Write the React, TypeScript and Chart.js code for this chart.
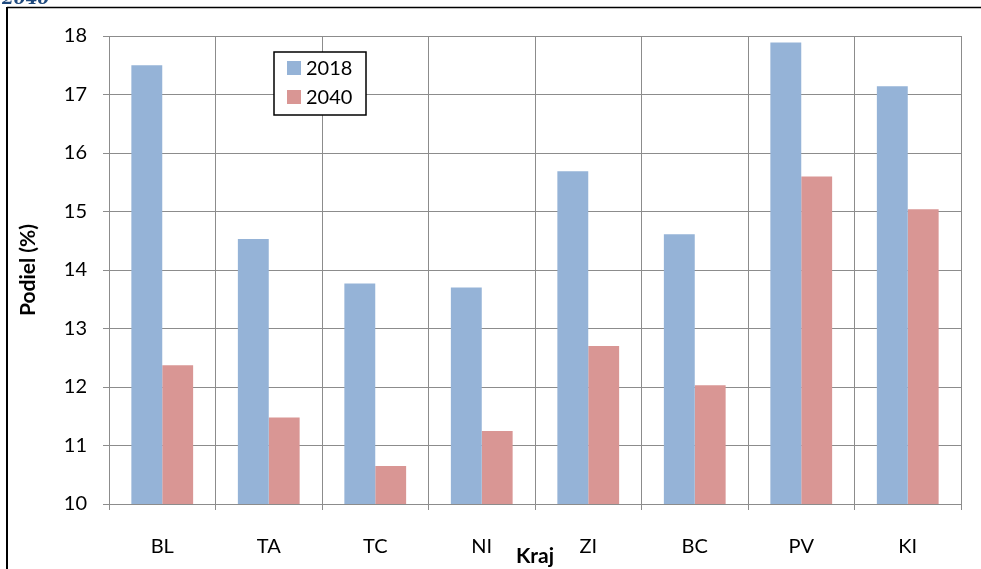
import React, { useEffect, useRef } from "react";
import { Chart, registerables } from "chart.js";

Chart.register(...registerables);

const categories = ["BL", "TA", "TC", "NI", "ZI", "BC", "PV", "KI"];
const values2018 = [17.5, 14.53, 13.77, 13.7, 15.69, 14.61, 17.89, 17.14];
const values2040 = [12.37, 11.48, 10.65, 11.25, 12.7, 12.03, 15.6, 15.04];
const seriesLabels = ["2018", "2040"];
const seriesColors = ["#95B3D7", "#D99694"];
const yTitle = "Podiel (%)";
const xTitle = "Kraj";
const captionFragment = "2040";

const FONT = "Lato, 'Open Sans', sans-serif";

const decorPlugin = {
  id: "decor",
  beforeDraw(chart: any) {
    const ctx = chart.ctx;
    ctx.save();
    ctx.fillStyle = "#ffffff";
    ctx.fillRect(0, 0, chart.width, chart.height);
    // outer frame lines
    ctx.strokeStyle = "#000000";
    ctx.lineWidth = 2;
    ctx.beginPath();
    ctx.moveTo(7, chart.height);
    ctx.lineTo(7, 7);
    ctx.stroke();
    ctx.lineWidth = 1.5;
    ctx.beginPath();
    ctx.moveTo(7, 7.5);
    ctx.lineTo(chart.width, 7.5);
    ctx.stroke();
    // clipped caption fragment
    ctx.fillStyle = "#1F497D";
    ctx.font = "bold italic 17px 'DejaVu Serif', serif";
    ctx.textBaseline = "alphabetic";
    ctx.textAlign = "left";
    ctx.fillText(captionFragment, 2, 4);
    ctx.restore();
  },
  afterDraw(chart: any) {
    const ctx = chart.ctx;
    const area = chart.chartArea;
    ctx.save();
    // axis titles
    ctx.fillStyle = "#000000";
    ctx.font = `bold 21px ${FONT}`;
    ctx.textAlign = "center";
    ctx.textBaseline = "middle";
    ctx.fillText(xTitle, (area.left + area.right) / 2, 556);
    ctx.translate(28, (area.top + area.bottom) / 2);
    ctx.rotate(-Math.PI / 2);
    ctx.fillText(yTitle, 0, 0);
    ctx.restore();

    // legend box
    ctx.save();
    ctx.fillStyle = "#ffffff";
    ctx.strokeStyle = "#000000";
    ctx.lineWidth = 1.5;
    ctx.fillRect(274, 52, 92, 63);
    ctx.strokeRect(274, 52, 92, 63);
    ctx.font = `20px ${FONT}`;
    ctx.textAlign = "left";
    ctx.textBaseline = "middle";
    const rows = [68, 97];
    seriesLabels.forEach((lab, i) => {
      ctx.fillStyle = seriesColors[i];
      ctx.fillRect(287, rows[i] - 7, 14, 14);
      ctx.fillStyle = "#000000";
      ctx.fillText(lab, 306, rows[i] + 1);
    });
    ctx.restore();
  },
};

export default function App() {
  const ref = useRef<HTMLCanvasElement | null>(null);
  useEffect(() => {
    if (!ref.current) return;
    const chart = new Chart(ref.current, {
      type: "bar",
      data: {
        labels: categories,
        datasets: [
          {
            label: seriesLabels[0],
            data: values2018,
            backgroundColor: seriesColors[0],
            borderWidth: 0,
            categoryPercentage: 0.58,
            barPercentage: 1.0,
          },
          {
            label: seriesLabels[1],
            data: values2040,
            backgroundColor: seriesColors[1],
            borderWidth: 0,
            categoryPercentage: 0.58,
            barPercentage: 1.0,
          },
        ],
      },
      options: {
        responsive: false,
        animation: false,
        layout: { padding: { top: 36, right: 20, left: 0, bottom: 0 } },
        plugins: {
          legend: { display: false },
          tooltip: { enabled: false },
          title: { display: false },
        },
        scales: {
          x: {
            grid: {
              offset: true,
              color: "#8c8c8c",
              lineWidth: 1,
              tickLength: 6,
              drawOnChartArea: true,
            },
            border: { color: "#8c8c8c", width: 1 },
            ticks: {
              color: "#000000",
              font: { family: FONT, size: 20 },
              padding: 25,
              maxRotation: 0,
            },
            afterFit(scale: any) {
              scale.height = 65;
            },
          },
          y: {
            min: 10,
            max: 18,
            grid: { color: "#8c8c8c", lineWidth: 1, tickLength: 6 },
            border: { color: "#8c8c8c", width: 1 },
            ticks: {
              stepSize: 1,
              color: "#000000",
              font: { family: FONT, size: 20 },
              padding: 16,
            },
            afterFit(scale: any) {
              scale.width = 109;
            },
          },
        },
      },
      plugins: [decorPlugin],
    } as any);
    return () => chart.destroy();
  }, []);
  return (
    <div style={{ position: "absolute", left: 0, top: 0, width: 981, height: 569 }}>
      <canvas ref={ref} width={981} height={569} style={{ display: "block" }} />
    </div>
  );
}
